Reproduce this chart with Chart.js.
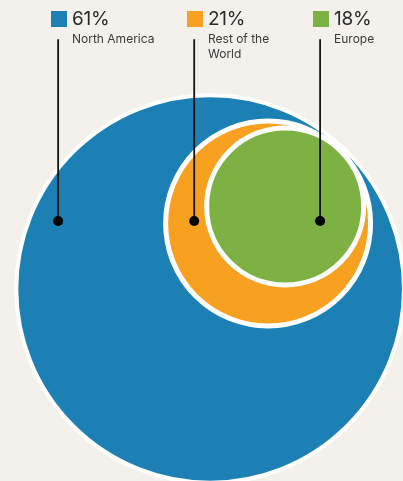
<!DOCTYPE html>
<html>
<head>
<meta charset="utf-8">
<script src="https://cdn.jsdelivr.net/npm/chart.js@4.4.1/dist/chart.umd.min.js"></script>
<style>
  html, body { margin: 0; padding: 0; background: #f4f1ec; }
  #wrap { position: relative; width: 403px; height: 481px; overflow: hidden; }
  #shareChart { position: absolute; left: 0; top: 0; }
  .key { position: absolute; top: 11px; font-family: Inter, "Liberation Sans", sans-serif; color: #2a2a2a; }
  .key .swatch { position: absolute; left: 0; top: 0; width: 16px; height: 16px; }
  .key .pct { position: absolute; left: 21px; top: -3px; font-size: 19px; line-height: 22px; white-space: nowrap; letter-spacing: -0.3px; }
  .key .name { position: absolute; left: 21px; top: 20px; font-size: 12px; line-height: 15px; white-space: pre; color: #3a3a3a; }
</style>
</head>
<body>
<div id="wrap">
  <canvas id="shareChart" width="403" height="481"></canvas>
  <div id="keys"></div>
</div>
<script>
const regions = ['North America', 'Rest of the\nWorld', 'Europe'];
const shares = [61, 21, 18];
const colors = ['#1c80b4', '#f8a01f', '#7db143'];

// circle centres and sizes, in chart units (big circle ~ 100)
const circleX = [0, 30.2, 39.1];
const circleY = [0, 34.1, 43.0];
const circleSize = [101, 53.4, 40.9];
const ringWidth = [4, 5, 5];

// leader lines: where each marker dot sits and how high the line climbs
const markerX = [-79.2, -8.3, 57.3];
const markerY = 35.4;
const leaderTop = 130;

const circleSets = regions.map((name, i) => ({
  type: 'bubble',
  label: name,
  order: 3 - i,
  data: [{ x: circleX[i], y: circleY[i], r: 0 }],
  backgroundColor: colors[i],
  borderColor: '#ffffff',
  borderWidth: ringWidth[i],
  clip: false
}));

const leaderSets = regions.map((name, i) => ({
  type: 'line',
  label: name + ' marker',
  order: 0,
  data: [{ x: markerX[i], y: leaderTop }, { x: markerX[i], y: markerY }],
  borderColor: '#141414',
  borderWidth: 1.8,
  pointRadius: [0, 5],
  pointBackgroundColor: '#000000',
  pointBorderWidth: 0,
  clip: false
}));

const chart = new Chart(document.getElementById('shareChart'), {
  type: 'bubble',
  data: { datasets: [...leaderSets, ...circleSets] },
  options: {
    responsive: false,
    animation: false,
    events: [],
    layout: { padding: 0, autoPadding: false },
    scales: {
      x: { type: 'linear', display: false, min: -109.5, max: 100.5 },
      y: { type: 'linear', display: false, min: -100, max: 150.5 }
    },
    plugins: { legend: { display: false }, tooltip: { enabled: false } }
  }
});

// circle sizes are in x units; turn them into pixel radii once the scale is laid out
const xScale = chart.scales.x;
const pxPerUnit = xScale.getPixelForValue(1) - xScale.getPixelForValue(0);
circleSets.forEach((ds, i) => { ds.data[0].r = circleSize[i] * pxPerUnit; });
chart.update();

// key entries sit just left of their leader line
const keys = document.getElementById('keys');
keys.innerHTML = regions.map((name, i) => {
  const left = Math.round(xScale.getPixelForValue(markerX[i])) - 7;
  return `
    <div class="key" style="left:${left}px">
      <div class="swatch" style="background:${colors[i]}"></div>
      <div class="pct">${shares[i]}%</div>
      <div class="name">${name}</div>
    </div>`;
}).join('');
</script>
</body>
</html>
